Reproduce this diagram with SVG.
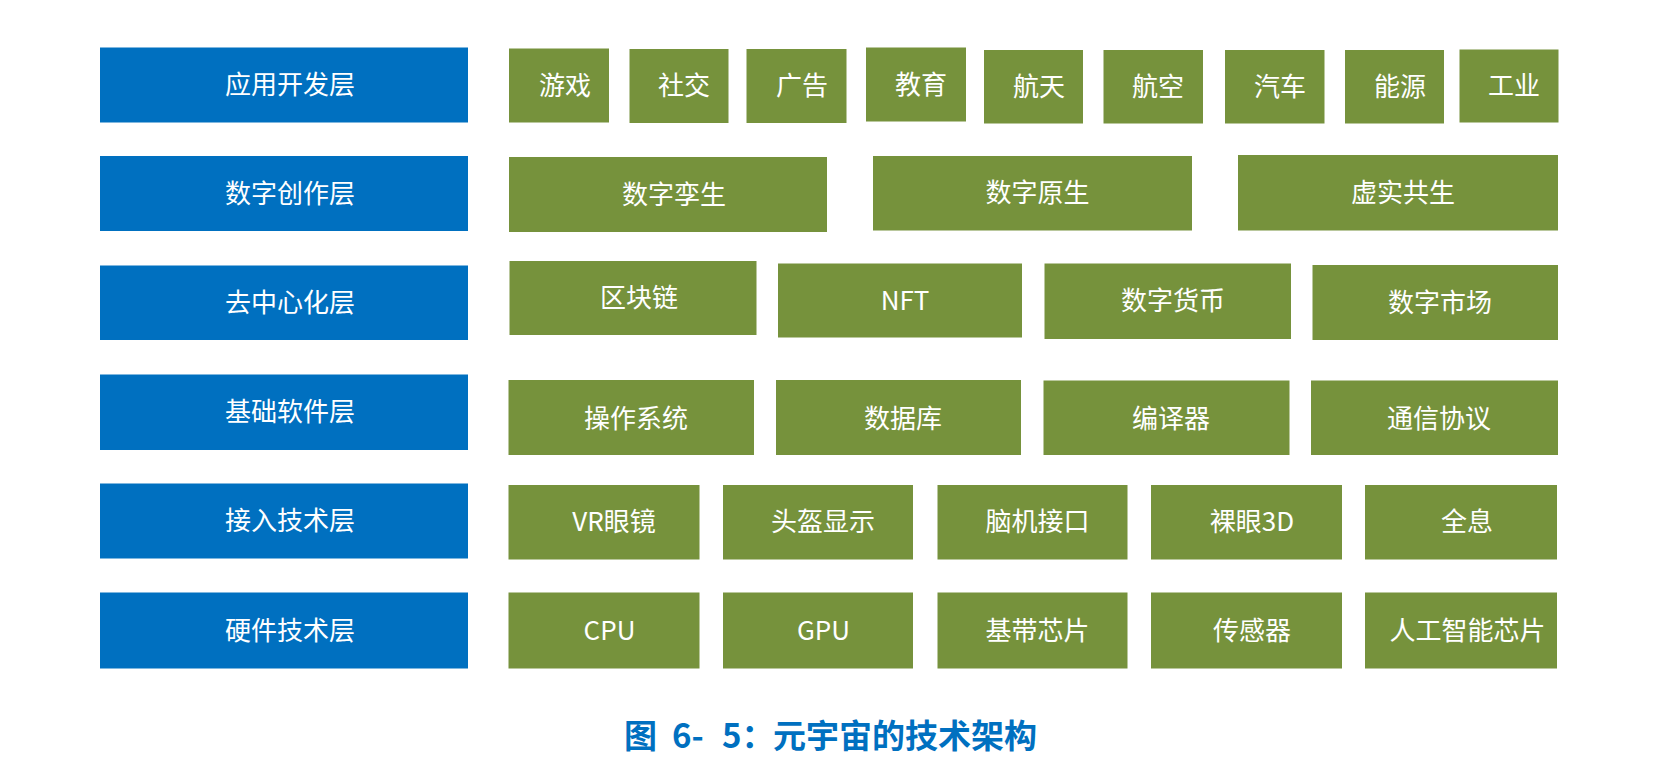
<svg xmlns="http://www.w3.org/2000/svg" width="1678" height="776" viewBox="0 0 1678 776">
<style>
.layer{fill:#0070C0}
.item{fill:#76923C}
.t{font-family:"Noto Sans CJK SC","Liberation Sans",sans-serif;font-size:26px;fill:#FFFFFF;text-anchor:middle}
.cap{font-family:"Noto Sans CJK SC","Liberation Sans",sans-serif;font-size:33px;font-weight:bold;fill:#0070C0}
</style>
<rect width="1678" height="776" fill="#FFFFFF"/>
<g id="layers">
  <g id="layer-app"><rect class="layer" x="100" y="47.5" width="368" height="75"/><text class="t" x="290" y="94">应用开发层</text></g>
  <g id="layer-creation"><rect class="layer" x="100" y="156" width="368" height="75"/><text class="t" x="290" y="202.5">数字创作层</text></g>
  <g id="layer-decentral"><rect class="layer" x="100" y="265.5" width="368" height="74.5"/><text class="t" x="290" y="312">去中心化层</text></g>
  <g id="layer-software"><rect class="layer" x="100" y="374.5" width="368" height="75.5"/><text class="t" x="290" y="421">基础软件层</text></g>
  <g id="layer-access"><rect class="layer" x="100" y="483.5" width="368" height="75"/><text class="t" x="290" y="530">接入技术层</text></g>
  <g id="layer-hardware"><rect class="layer" x="100" y="592.5" width="368" height="76"/><text class="t" x="290" y="639.5">硬件技术层</text></g>
</g>
<g id="row-app">
  <g id="n-game"><rect class="item" x="509" y="48.5" width="100" height="74"/><text class="t" x="565" y="95">游戏</text></g>
  <g id="n-social"><rect class="item" x="629.5" y="49" width="99" height="74"/><text class="t" x="684" y="95">社交</text></g>
  <g id="n-ad"><rect class="item" x="746.5" y="49" width="100" height="74"/><text class="t" x="802" y="95">广告</text></g>
  <g id="n-edu"><rect class="item" x="866" y="47.5" width="100" height="74"/><text class="t" x="921" y="93.5">教育</text></g>
  <g id="n-space"><rect class="item" x="984" y="50" width="99" height="73.5"/><text class="t" x="1039" y="96">航天</text></g>
  <g id="n-aviation"><rect class="item" x="1103.5" y="50" width="99.5" height="73.5"/><text class="t" x="1158" y="96">航空</text></g>
  <g id="n-auto"><rect class="item" x="1225" y="50" width="99.5" height="73.5"/><text class="t" x="1280" y="96">汽车</text></g>
  <g id="n-energy"><rect class="item" x="1345" y="50" width="99" height="73.5"/><text class="t" x="1400" y="96">能源</text></g>
  <g id="n-industry"><rect class="item" x="1459.5" y="49.5" width="99" height="73"/><text class="t" x="1514" y="95">工业</text></g>
</g>
<g id="row-creation">
  <g id="n-twin"><rect class="item" x="509" y="157" width="318" height="75"/><text class="t" x="674" y="203.5">数字孪生</text></g>
  <g id="n-native"><rect class="item" x="873" y="156" width="319" height="74.5"/><text class="t" x="1037.5" y="202">数字原生</text></g>
  <g id="n-symbiosis"><rect class="item" x="1238" y="155" width="320" height="75.5"/><text class="t" x="1403" y="202">虚实共生</text></g>
</g>
<g id="row-decentral">
  <g id="n-blockchain"><rect class="item" x="509.5" y="261" width="247" height="74"/><text class="t" x="639" y="307">区块链</text></g>
  <g id="n-nft"><rect class="item" x="778" y="263.5" width="244" height="74"/><text class="t" x="905" y="309.5">NFT</text></g>
  <g id="n-currency"><rect class="item" x="1044.5" y="263.5" width="246.5" height="75.5"/><text class="t" x="1173" y="310">数字货币</text></g>
  <g id="n-market"><rect class="item" x="1312.5" y="265" width="245.5" height="75"/><text class="t" x="1440" y="311.5">数字市场</text></g>
</g>
<g id="row-software">
  <g id="n-os"><rect class="item" x="508.5" y="380" width="245.5" height="75"/><text class="t" x="636" y="428">操作系统</text></g>
  <g id="n-db"><rect class="item" x="776" y="380" width="245" height="75"/><text class="t" x="903" y="428">数据库</text></g>
  <g id="n-compiler"><rect class="item" x="1043.5" y="380.5" width="246" height="74.5"/><text class="t" x="1171" y="428">编译器</text></g>
  <g id="n-protocol"><rect class="item" x="1311" y="380.5" width="247" height="74.5"/><text class="t" x="1439" y="428">通信协议</text></g>
</g>
<g id="row-access">
  <g id="n-vr"><rect class="item" x="508.5" y="485" width="191" height="74.5"/><text class="t" x="614" y="531">VR眼镜</text></g>
  <g id="n-hmd"><rect class="item" x="723" y="485" width="190" height="74.5"/><text class="t" x="823" y="531">头盔显示</text></g>
  <g id="n-bci"><rect class="item" x="937.5" y="485" width="190" height="74.5"/><text class="t" x="1037.5" y="531">脑机接口</text></g>
  <g id="n-3d"><rect class="item" x="1151" y="485" width="191" height="74.5"/><text class="t" x="1252" y="531">裸眼3D</text></g>
  <g id="n-holo"><rect class="item" x="1365" y="485" width="192" height="74.5"/><text class="t" x="1467" y="531">全息</text></g>
</g>
<g id="row-hardware">
  <g id="n-cpu"><rect class="item" x="508.5" y="592.5" width="191" height="76"/><text class="t" x="609.5" y="639.5">CPU</text></g>
  <g id="n-gpu"><rect class="item" x="723" y="592.5" width="190" height="76"/><text class="t" x="823.5" y="639.5">GPU</text></g>
  <g id="n-baseband"><rect class="item" x="937.5" y="592.5" width="190" height="76"/><text class="t" x="1037.5" y="639.5">基带芯片</text></g>
  <g id="n-sensor"><rect class="item" x="1151" y="592.5" width="191" height="76"/><text class="t" x="1252" y="639.5">传感器</text></g>
  <g id="n-ai"><rect class="item" x="1365" y="592.5" width="192" height="76"/><text class="t" x="1467.5" y="639.5">人工智能芯片</text></g>
</g>
<g id="connectors"></g>
<text class="cap" y="748"><tspan x="624">图</tspan><tspan x="672">6-</tspan><tspan x="722">5：</tspan><tspan x="773">元宇宙的技术架构</tspan></text>
</svg>
